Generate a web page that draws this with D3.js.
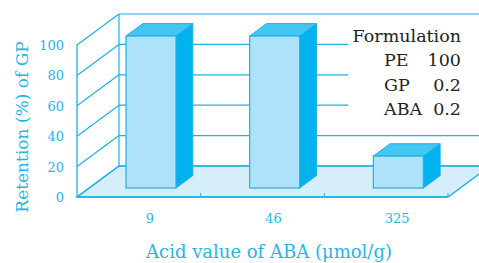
<!DOCTYPE html>
<html>
<head>
<meta charset="utf-8">
<script src="https://cdn.jsdelivr.net/npm/d3@7"></script>
<style>
  body { margin: 0; background: #fff; }
  text { font-family: "DejaVu Serif", "Liberation Serif", serif; }
</style>
</head>
<body>
<div id="chart"></div>
<script>
// data
var categories = ["9", "46", "325"];
var retention = [100, 100, 21];
var yTicks = [0, 20, 40, 60, 80, 100];
var legendRows = [["PE", "100"], ["GP", "0.2"], ["ABA", "0.2"]];

var width = 479;
var height = 263;
var blue = "#1fb0e6";
var textBlue = "#29b4e6";
var depthX = 42; // offset of back wall
var depthY = -31;

var svg = d3
  .select("#chart")
  .append("svg")
  .attr("width", width)
  .attr("height", height);

var xScale = d3
  .scaleBand()
  .domain(categories)
  .range([77, 448]);
var yScale = d3
  .scaleLinear()
  .domain([0, 100])
  .range([197, 45]);

function px(x, z) { return x + depthX * z; }
function py(y, z) { return y + depthY * z; }

var x0 = xScale.range()[0];
var x1 = xScale.range()[1];
var y0 = yScale(0);

// floor
svg
  .append("polygon")
  .attr("points", [
    [x0, y0], [x1, y0], [px(x1, 1), py(y0, 1)], [px(x0, 1), py(y0, 1)]
  ].join(" "))
  .attr("fill", "#d5eefa")
  .attr("stroke", blue)
  .attr("stroke-width", 1.3);

// back wall gridlines + side wall diagonals
yTicks.forEach(function(t) {
  svg
    .append("line")
    .attr("x1", px(x0, 1))
    .attr("y1", py(yScale(t), 1))
    .attr("x2", px(x1, 1))
    .attr("y2", py(yScale(t), 1))
    .attr("stroke", blue)
    .attr("stroke-width", 1.2);
  svg
    .append("line")
    .attr("x1", x0)
    .attr("y1", yScale(t))
    .attr("x2", px(x0, 1))
    .attr("y2", py(yScale(t), 1))
    .attr("stroke", blue)
    .attr("stroke-width", 1.2);
});
svg
  .append("line")
  .attr("x1", px(x0, 1))
  .attr("y1", py(yScale(100), 1))
  .attr("x2", px(x0, 1))
  .attr("y2", py(y0, 1))
  .attr("stroke", blue)
  .attr("stroke-width", 1.2);

// legend box hides the gridlines behind it
svg
  .append("rect")
  .attr("x", 348)
  .attr("y", 22)
  .attr("width", 131)
  .attr("height", 100)
  .attr("fill", "#fff");

// front axes
svg
  .append("line")
  .attr("x1", x0).attr("y1", y0)
  .attr("x2", x0).attr("y2", yScale(100))
  .attr("stroke", blue).attr("stroke-width", 1.3);
svg
  .append("line")
  .attr("x1", x0).attr("y1", y0)
  .attr("x2", x1).attr("y2", y0)
  .attr("stroke", blue).attr("stroke-width", 1.3);
categories.slice(1).map(function(c) { return xScale(c); }).concat([x1]).forEach(function(tx) {
  svg
    .append("line")
    .attr("x1", tx).attr("y1", y0)
    .attr("x2", tx).attr("y2", y0 - 4)
    .attr("stroke", blue).attr("stroke-width", 1);
});

// bars
var zf = 0.29;
var zb = 0.69;
var barW = 50;
var bars = svg
  .selectAll(".bar")
  .data(categories)
  .enter()
  .append("g")
  .attr("class", "bar");
bars.each(function(c, i) {
  var g = d3.select(this);
  var l = px(xScale(c) + xScale.bandwidth() / 2 - barW / 2, zf);
  var r = l + barW;
  var b = py(y0, zf);
  var t = py(yScale(retention[i]), zf);
  var ox = depthX * (zb - zf);
  var oy = depthY * (zb - zf);
  g.append("polygon")
    .attr("points", [[r, t], [r + ox, t + oy], [r + ox, b + oy], [r, b]].join(" "))
    .attr("fill", "#00b2ee")
    .attr("stroke", blue)
    .attr("stroke-width", 1);
  g.append("polygon")
    .attr("points", [[l, t], [l + ox, t + oy], [r + ox, t + oy], [r, t]].join(" "))
    .attr("fill", "#42c6f2")
    .attr("stroke", blue)
    .attr("stroke-width", 1);
  g.append("rect")
    .attr("x", l)
    .attr("y", t)
    .attr("width", barW)
    .attr("height", b - t)
    .attr("fill", "#aee2fa")
    .attr("stroke", blue)
    .attr("stroke-width", 1.2);
});

// y tick labels
svg
  .selectAll(".ytick")
  .data(yTicks)
  .enter()
  .append("text")
  .attr("x", 64)
  .attr("y", function(d) { return yScale(d) + 5; })
  .attr("text-anchor", "end")
  .attr("font-size", 13)
  .attr("fill", textBlue)
  .text(function(d) { return d; });

// x tick labels
svg
  .selectAll(".xtick")
  .data(categories)
  .enter()
  .append("text")
  .attr("x", function(d) { return xScale(d) + xScale.bandwidth() / 2 + 11; })
  .attr("y", 223)
  .attr("text-anchor", "middle")
  .attr("font-size", 13)
  .attr("fill", textBlue)
  .text(function(d) { return d; });

// axis titles
svg
  .append("text")
  .attr("x", 269)
  .attr("y", 258)
  .attr("text-anchor", "middle")
  .attr("font-size", 18)
  .attr("fill", textBlue)
  .text("Acid value of ABA (\u03bcmol/g)");
svg
  .append("text")
  .attr("transform", "translate(28,127) rotate(-90)")
  .attr("text-anchor", "middle")
  .attr("font-size", 17)
  .attr("fill", textBlue)
  .text("Retention (%) of GP");

// legend
svg
  .append("text")
  .attr("x", 461)
  .attr("y", 42)
  .attr("text-anchor", "end")
  .attr("font-size", 17.5)
  .attr("fill", "#222")
  .text("Formulation");
legendRows.forEach(function(row, i) {
  svg
    .append("text")
    .attr("x", 384)
    .attr("y", 66 + i * 24.5)
    .attr("font-size", 17.5)
    .attr("fill", "#222")
    .text(row[0]);
  svg
    .append("text")
    .attr("x", 461)
    .attr("y", 66 + i * 24.5)
    .attr("text-anchor", "end")
    .attr("font-size", 17.5)
    .attr("fill", "#222")
    .text(row[1]);
});
</script>
</body>
</html>
